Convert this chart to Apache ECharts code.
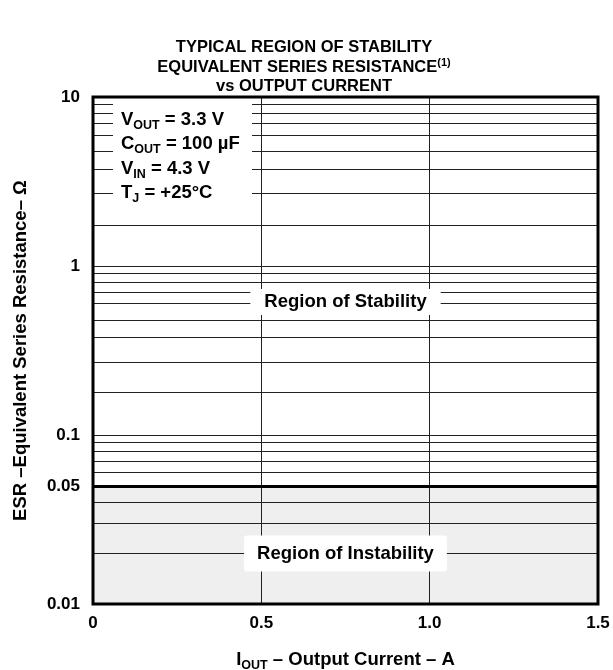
<!DOCTYPE html>
<html><head><meta charset="utf-8">
<script src="https://cdn.jsdelivr.net/npm/echarts@6/dist/echarts.min.js"></script>
<style>html,body{margin:0;padding:0;background:#fff}#c{width:613px;height:670px}</style>
</head><body><div id="c"></div>
<script>
// ---- chart content ----
const titleLines = ['TYPICAL REGION OF STABILITY', 'EQUIVALENT SERIES RESISTANCE', 'vs OUTPUT CURRENT'];
const titleNote = '(1)';
const xMin = 0, xMax = 1.5, xStep = 0.5;
const xTickLabels = ['0', '0.5', '1.0', '1.5'];
const xGridValues = [0.5, 1.0];
const yMin = 0.01, yMax = 10;
const yDecades = [0.01, 0.1, 1, 10];
const yTickLabels = ['0.01', '0.1', '1', '10'];
// minor grid lines per decade, as placed in the picture
const minorMantissas = [1.75, 2.7, 3.75, 4.8, 5.95, 7.0, 8.0, 9.0];
const stabilityLimit = 0.05;
const stabilityLimitLabel = '0.05';
const regionNames = ['Region of Stability', 'Region of Instability'];
const regionX = [0.75, 0.75];
const regionY = [0.613, 0.0199];
const conditionSymbols = ['V', 'C', 'V', 'T'];
const conditionSubs = ['OUT', 'OUT', 'IN', 'J'];
const conditionValues = [' = 3.3 V', ' = 100 µF', ' = 4.3 V', ' = +25°C'];
const xName = ['I', 'OUT', ' – Output Current – A'];
const yName = 'ESR –Equivalent Series Resistance– Ω';

// ---- build ----
const FONT = '"Liberation Sans", Arial, Helvetica, sans-serif';
const chart = echarts.init(document.getElementById('c'), null, {renderer: 'canvas'});

const hLines = [];
yDecades.slice(0, -1).forEach(d => {
  minorMantissas.forEach(m => {
    const v = d * m;
    if (Math.abs(Math.log10(v) - Math.log10(stabilityLimit)) < 0.03) return;
    hLines.push({yAxis: v});
  });
});
yDecades.slice(1, -1).forEach(d => hLines.push({yAxis: d}));
const vLines = xGridValues.map(v => ({xAxis: v}));

const richMain = {
  m: {fontSize: 18.5, fontWeight: 'bold', fontFamily: FONT, color: '#000', lineHeight: 24.5, verticalAlign: 'middle'},
  s: {fontSize: 12.5, fontWeight: 'bold', fontFamily: FONT, color: '#000', lineHeight: 13, verticalAlign: 'bottom'}
};

const condText = conditionSymbols.map((s, i) => `{m|${s}}{s|${conditionSubs[i]}}{m|${conditionValues[i]}}`).join('\n');

const option = {
  animation: false,
  backgroundColor: '#fff',
  title: {
    text: `{t|${titleLines[0]}}\n{t|${titleLines[1]}}{p|${titleNote}}\n{t|${titleLines[2]}}`,
    left: 299, top: 33, textAlign: 'center',
    textStyle: {
      rich: {
        t: {fontSize: 16.5, fontWeight: 'bold', fontFamily: FONT, color: '#000', lineHeight: 19.5, verticalAlign: 'middle', align: 'center'},
        p: {fontSize: 11, fontWeight: 'bold', fontFamily: FONT, color: '#000', lineHeight: 11, verticalAlign: 'top'}
      }
    }
  },
  grid: {left: 93, right: 15, top: 97, bottom: 66, outerBoundsMode: 'none', containLabel: false,
    show: true, borderColor: '#000', borderWidth: 3, backgroundColor: 'transparent', z: 10},
  xAxis: {
    type: 'value', min: xMin, max: xMax, interval: xStep,
    axisLine: {show: false}, axisTick: {show: false}, splitLine: {show: false},
    axisLabel: {
      margin: 11, color: '#000', fontSize: 17, fontWeight: 'bold', fontFamily: FONT,
      formatter: v => xTickLabels[Math.round((v - xMin) / xStep)] ?? ''
    },
    name: `{m|${xName[0]}}{s|${xName[1]}}{m|${xName[2]}}`,
    nameLocation: 'middle', nameGap: 44,
    nameTextStyle: {rich: {
      m: {fontSize: 18.5, fontWeight: 'bold', fontFamily: FONT, color: '#000', lineHeight: 24, verticalAlign: 'middle'},
      s: {fontSize: 12.5, fontWeight: 'bold', fontFamily: FONT, color: '#000', lineHeight: 13, verticalAlign: 'bottom'}
    }}
  },
  yAxis: {
    type: 'log', logBase: 10, min: yMin, max: yMax,
    axisLine: {show: false}, axisTick: {show: false}, splitLine: {show: false}, minorSplitLine: {show: false},
    axisLabel: {
      margin: 13, color: '#000', fontSize: 17, fontWeight: 'bold', fontFamily: FONT,
      formatter: v => {
        const i = yDecades.findIndex(d => Math.abs(Math.log10(d) - Math.log10(v)) < 1e-6);
        return i >= 0 ? yTickLabels[i] : '';
      }
    },
    name: yName, nameLocation: 'middle', nameGap: 63, nameRotate: 90,
    nameTextStyle: {fontSize: 18.5, fontWeight: 'bold', fontFamily: FONT, color: '#000'}
  },
  series: [
    {
      type: 'line', name: 'instability', data: [], z: 1, silent: true,
      markArea: {silent: true, itemStyle: {color: '#eeefee', opacity: 1}, data: [[{yAxis: yMin}, {yAxis: stabilityLimit}]]}
    },
    {
      type: 'line', name: 'grid', data: [], z: 3, silent: true,
      markLine: {
        silent: true, symbol: ['none', 'none'], animation: false,
        label: {show: false},
        lineStyle: {color: '#222', width: 1, type: 'solid', opacity: 1},
        data: hLines.concat(vLines).concat([{
          yAxis: stabilityLimit,
          lineStyle: {color: '#000', width: 3, type: 'solid'},
          label: {show: true, position: 'start', distance: 13, formatter: stabilityLimitLabel,
            color: '#000', fontSize: 17, fontWeight: 'bold', fontFamily: FONT}
        }])
      }
    },
    {
      type: 'scatter', name: 'regions', z: 5, silent: true, symbolSize: 0,
      itemStyle: {opacity: 1},
      data: regionNames.map((n, i) => ({
        value: [regionX[i], regionY[i]], name: n,
        label: {padding: i === 0 ? [3, 14, 2, 14] : [8, 13, 7, 13]}
      })),
      label: {
        show: true, position: 'inside', formatter: p => p.name, opacity: 1,
        backgroundColor: '#fff', borderRadius: 3, textBorderWidth: 0,
        color: '#000', fontSize: 18.5, fontWeight: 'bold', fontFamily: FONT, lineHeight: 21
      }
    }
  ],
  graphic: [
    {type: 'rect', shape: {x: 113, y: 100, width: 139, height: 110}, style: {fill: '#fff'}, z: 100, silent: true},
    {type: 'text', x: 121, y: 107.5, z: 101, silent: true,
     style: {text: condText, rich: richMain, fill: '#000', fontFamily: FONT}}
  ]
};
chart.setOption(option);
</script></body></html>
